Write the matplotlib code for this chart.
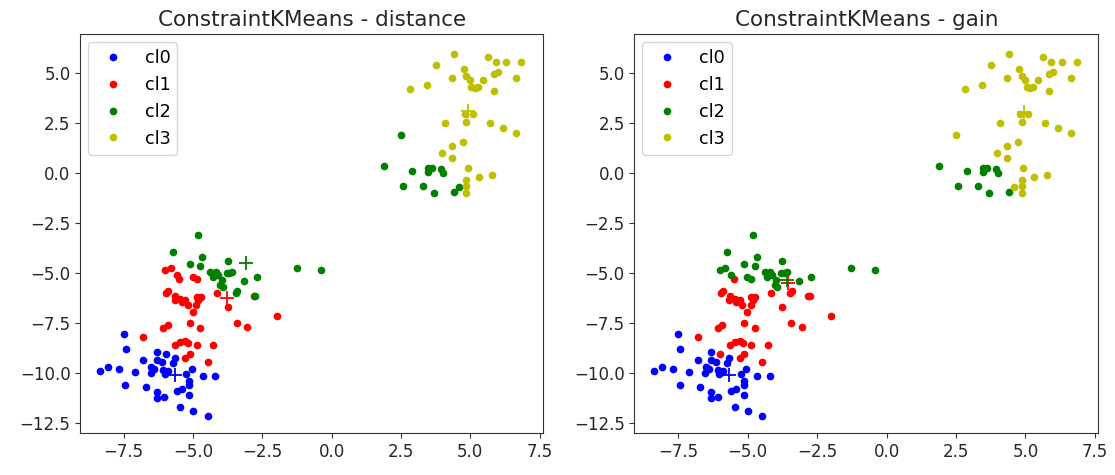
import matplotlib
matplotlib.use("Agg")
import matplotlib.pyplot as plt
import numpy as np

# points (same data in both panels), grouped roughly by the "distance" clusters
x = [-7.51, -7.42, -8.35, -8.08, -7.69, -7.11, -7.44, -6.70, -6.32, -5.98, -6.79, -6.30,
     -6.12, -5.67, -5.73, -6.51, -6.40, -6.52, -6.07, -5.89, -6.01, -5.25, -5.04, -4.66,
     -4.21, -5.14, -5.14, -5.58, -5.40, -5.14, -6.32, -6.32, -6.05, -5.46, -5.00, -4.48,
     -6.00, -5.80, -5.58, -5.50, -5.01, -4.86, -5.97, -5.89, -5.64, -5.67, -5.46, -5.28,
     -5.40, -4.86, -4.72, -4.81, -5.20, -4.89, -5.01, -4.14, -3.75, -1.98, -5.13, -4.74,
     -6.07, -5.92, -3.42, -3.04, -6.79, -5.64, -5.46, -5.28, -5.17, -4.86, -4.27, -5.28,
     -5.13, -4.47, -2.82,
     -4.81, -5.73, -5.13, -4.67, -4.74, -3.75, -4.38, -4.18, -4.30, -4.12, -3.96, -3.78,
     -3.58, -3.69, -4.02, -3.93, -3.16, -2.70, -3.47, -3.40, -2.76, -1.26, -0.40, 2.49,
     1.89, 2.88, 3.48, 3.60, 3.48, 3.94, 4.02, 2.56, 3.28, 3.69, 4.42, 4.60,
     4.41, 3.76, 5.64, 5.92, 6.30, 6.84, 4.78, 4.32, 3.42, 2.82, 4.86, 4.98,
     5.04, 5.16, 5.28, 5.46, 5.86, 5.98, 6.64, 5.85, 4.80, 5.08, 4.08, 4.86,
     5.70, 6.18, 6.63, 4.74, 4.34, 3.99, 4.34, 4.92, 5.32, 5.79, 4.86, 4.86, 4.86]
y = [-8.04, -8.79, -9.87, -9.67, -9.79, -9.94, -10.60, -10.69, -8.95, -9.04, -9.34, -9.34,
     -9.45, -9.22, -9.50, -9.67, -9.80, -9.97, -9.84, -9.89, -10.04, -10.04, -9.79, -10.15,
     -10.15, -10.39, -10.59, -10.87, -10.79, -11.07, -10.92, -11.25, -11.17, -11.70, -11.87, -12.15,
     -4.84, -4.75, -5.09, -5.30, -5.20, -5.30, -5.97, -5.89, -6.14, -6.34, -6.30, -6.34,
     -6.42, -6.20, -6.20, -6.34, -6.59, -6.59, -6.92, -6.00, -6.67, -7.14, -7.47, -7.75,
     -7.75, -7.59, -7.47, -7.67, -8.17, -8.59, -8.42, -8.39, -8.50, -8.59, -8.59, -9.25,
     -9.05, -9.42, -6.14,
     -3.09, -3.94, -4.55, -4.19, -4.65, -4.39, -4.95, -4.95, -5.17, -5.09, -5.34, -5.00,
     -4.92, -5.00, -5.59, -5.67, -5.39, -5.20, -5.97, -5.89, -6.14, -4.75, -4.84, 1.92,
     0.37, 0.12, 0.28, 0.28, 0.08, 0.22, 0.00, -0.64, -0.64, -1.00, -0.92, -0.70,
     5.97, 5.42, 5.80, 5.58, 5.58, 5.58, 5.22, 4.78, 4.42, 4.20, 4.88, 4.67,
     4.33, 4.25, 4.33, 4.67, 4.95, 5.05, 4.78, 4.13, 2.97, 2.97, 2.50, 2.58,
     2.50, 2.28, 2.03, 1.58, 1.37, 1.03, 0.75, 0.28, -0.17, -0.09, -0.34, -0.62, -1.00]

labels_distance = [0] * 36 + [1] * 39 + [2] * 36 + [3] * 37
labels_gain = ([0, 0, 0, 0, 0, 0, 0, 0, 0, 1, 0, 0, 0, 0, 0, 0, 0, 0,
                0, 0, 0, 0, 0, 0, 0, 0, 0, 0, 0, 0, 0, 0, 0, 0, 0, 0]
               + [2, 2, 2, 1, 2, 2, 1, 1, 1, 1, 1, 1, 1, 1, 1, 1, 1, 1, 1, 1,
                  1, 1, 1, 1, 1, 1, 1, 1, 1, 1, 1, 1, 1, 1, 1, 1, 1, 1, 1]
               + [2, 2, 2, 2, 2, 2, 2, 2, 2, 2, 2, 2, 2, 2, 2, 2, 2, 2,
                  1, 1, 1, 2, 2, 3, 2, 2, 2, 2, 2, 2, 2, 2, 2, 2, 2, 3]
               + [3] * 37)

centers_distance_x = [-5.64, -3.76, -3.10, 4.92]
centers_distance_y = [-10.09, -6.22, -4.47, 3.12]
centers_gain_x = [-5.66, -3.53, -3.59, 4.94]
centers_gain_y = [-10.09, -5.50, -5.34, 3.08]

colors = ['b', 'r', 'g', 'y']
names = ['cl0', 'cl1', 'cl2', 'cl3']

x = np.array(x)
y = np.array(y)

fig = plt.figure(figsize=(11.15, 4.75), dpi=100)
ax1 = fig.add_axes([0.072, 0.088, 0.415, 0.840])
ax2 = fig.add_axes([0.569, 0.088, 0.416, 0.840])

panels = [(ax1, labels_distance, centers_distance_x, centers_distance_y, 'ConstraintKMeans - distance'),
          (ax2, labels_gain, centers_gain_x, centers_gain_y, 'ConstraintKMeans - gain')]

for ax, labels, cx, cy, title in panels:
    labels = np.array(labels)
    for k in range(4):
        ax.plot(x[labels == k], y[labels == k], '.', color=colors[k], ms=9, label=names[k])
    for k in range(4):
        ax.plot(cx[k], cy[k], '+', color=colors[k], ms=10, mew=1.3)
    ax.set_xlim(-9.07, 7.62)
    ax.set_ylim(-13.0, 6.95)
    ax.set_xticks([-7.5, -5.0, -2.5, 0.0, 2.5, 5.0, 7.5])
    ax.set_yticks([-12.5, -10.0, -7.5, -5.0, -2.5, 0.0, 2.5, 5.0])
    ax.tick_params(labelsize=12, colors='#333333', labelcolor='#262626')
    ax.set_title(title, fontsize=15.5, color='#262626')
    ax.legend(loc='upper left', fontsize=12.7, borderaxespad=0.45)
    for s in ax.spines.values():
        s.set_color('#333333')

fig.savefig('out.png', dpi=100)
